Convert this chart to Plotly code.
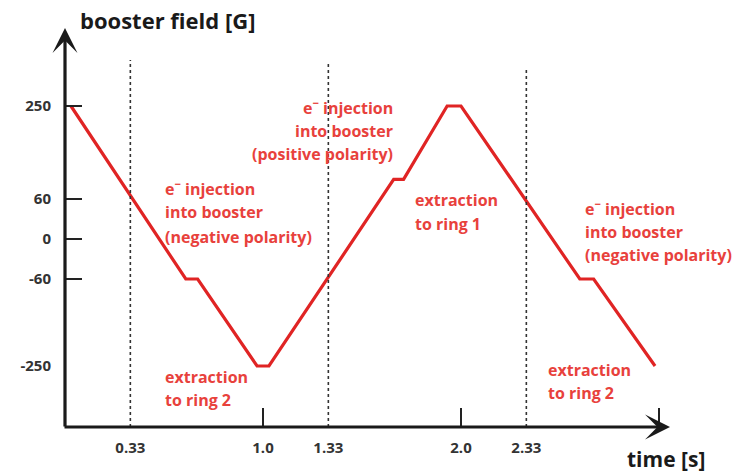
import numpy as np
import plotly.graph_objects as go

# ---------------- data ----------------
time_s = [0.03, 0.61, 0.67, 0.97, 1.03, 1.66, 1.71, 1.93, 2.00, 2.60, 2.67, 2.98]
field_G = [250, -60, -60, -250, -250, 100, 100, 250, 250, -60, -60, -250]

x_tick_vals = [0.33, 1.0, 1.33, 2.0, 2.33]
x_tick_text = ["0.33", "1.0", "1.33", "2.0", "2.33"]
x_tick_marks = [1.0, 2.0, 3.0]
transition_times = [0.33, 1.33, 2.33]

y_tick_vals = [250, 60, 0, -60, -250]
y_tick_text = ["250", "60", "0", "-60", "-250"]
y_tick_marks = [250, 60, 0, -60]

# schematic (non-linear) field axis: field value -> axis position
scale_field = [-250, -60, 0, 60, 250]
scale_pos = [-127, -40, 0, 40, 133]


def fpos(g):
    return np.interp(g, scale_field, scale_pos)


# ---------------- layout geometry ----------------
W, H = 737, 473
ML, MB = 65, 46
PW, PH = W - ML, H - MB
PX_PER_S = 198.0
X_RANGE = [0, PW / PX_PER_S]
Y_RANGE = [-188, 239]

RED_LINE = "#e02424"
RED_TXT = "#e8413c"
DARK = "#1a1a1a"
FONT = "Open Sans"


def px_x(px):
    return (px - ML) / PW


def px_y(py):
    return (PH - py) / PH


fig = go.Figure()

fig.add_trace(go.Scatter(
    x=time_s, y=fpos(field_G), mode="lines",
    line=dict(color=RED_LINE, width=3.2), hoverinfo="skip", showlegend=False,
))
# invisible trace carrying the tick-mark overlay axes
fig.add_trace(go.Scatter(x=[None], y=[None], xaxis="x2", yaxis="y2",
                         showlegend=False, hoverinfo="skip"))

# dotted transition lines
tops = [60, 63, 70]
for t, top in zip(transition_times, tops):
    fig.add_shape(type="line", xref="x", yref="paper", x0=t, x1=t,
                  y0=0, y1=px_y(top),
                  line=dict(color="#333333", width=1.6, dash="dot"))

annotations = []
# axis arrows
annotations.append(dict(x=0, y=239 - 28, ax=0, ay=Y_RANGE[0] - 1,
                        xref="x", yref="y", axref="x", ayref="y",
                        showarrow=True, arrowhead=3, arrowsize=1.3, arrowwidth=3.2,
                        arrowcolor=DARK, text=""))
annotations.append(dict(x=(670 - ML) / PX_PER_S, y=Y_RANGE[0],
                        ax=(63 - ML) / PX_PER_S, ay=Y_RANGE[0],
                        xref="x", yref="y", axref="x", ayref="y",
                        showarrow=True, arrowhead=3, arrowsize=1.3, arrowwidth=3.2,
                        arrowcolor=DARK, text=""))

# axis titles
annotations.append(dict(x=px_x(78), y=px_y(20), xref="paper", yref="paper",
                        xanchor="left", yanchor="middle", showarrow=False,
                        text="<b>booster field [G]</b>",
                        font=dict(family=FONT, size=22, color=DARK)))
annotations.append(dict(x=px_x(625), y=px_y(459), xref="paper", yref="paper",
                        xanchor="left", yanchor="middle", showarrow=False,
                        text="<b>time [s]</b>",
                        font=dict(family=FONT, size=21, color=DARK)))

# red labels: (lines, x px, y px list, anchor)
label_groups = [
    (["e<sup>−</sup> injection", "into booster", "(negative polarity)"], 163, [188, 212, 237], "left"),
    (["e<sup>−</sup> injection", "into booster", "(positive polarity)"], 395, [107, 131, 154], "right"),
    (["extraction", "to ring 1"], 413, [200, 224], "left"),
    (["e<sup>−</sup> injection", "into booster", "(negative polarity)"], 583, [208, 232, 255], "left"),
    (["extraction", "to ring 2"], 163, [377, 400], "left"),
    (["extraction", "to ring 2"], 546, [370, 393], "left"),
]
for lines, xp, yps, anchor in label_groups:
    for txt, yp in zip(lines, yps):
        annotations.append(dict(x=px_x(xp), y=px_y(yp), xref="paper", yref="paper",
                                xanchor=anchor, yanchor="middle", showarrow=False,
                                text="<b>" + txt + "</b>",
                                font=dict(family=FONT, size=16, color=RED_TXT)))

fig.update_layout(
    width=W, height=H,
    margin=dict(l=ML, r=0, t=0, b=MB),
    paper_bgcolor="white", plot_bgcolor="white",
    showlegend=False,
    xaxis=dict(range=X_RANGE, showgrid=False, zeroline=False, showline=False,
               tickmode="array", tickvals=x_tick_vals, ticktext=x_tick_text,
               ticks="", ticklabelstandoff=10,
               tickfont=dict(family=FONT, size=15, color="#333333", weight="bold")),
    yaxis=dict(range=Y_RANGE, showgrid=False, zeroline=False, showline=False,
               tickmode="array", tickvals=list(fpos(y_tick_vals)), ticktext=y_tick_text,
               ticks="", ticklabelstandoff=13,
               tickfont=dict(family=FONT, size=15, color="#333333", weight="bold")),
    xaxis2=dict(range=X_RANGE, overlaying="x", anchor="y", showgrid=False,
                zeroline=False, showline=False, showticklabels=False,
                tickmode="array", tickvals=x_tick_marks,
                ticks="inside", ticklen=19, tickwidth=2, tickcolor="#222222"),
    yaxis2=dict(range=Y_RANGE, overlaying="y", anchor="x", showgrid=False,
                zeroline=False, showline=False, showticklabels=False,
                tickmode="array", tickvals=list(fpos(y_tick_marks)),
                ticks="inside", ticklen=17, tickwidth=2, tickcolor="#222222"),
    annotations=annotations,
)

fig.write_html("out.html", config={"displayModeBar": False},
               post_script="document.body.style.margin='0px';document.body.style.overflow='hidden';")
